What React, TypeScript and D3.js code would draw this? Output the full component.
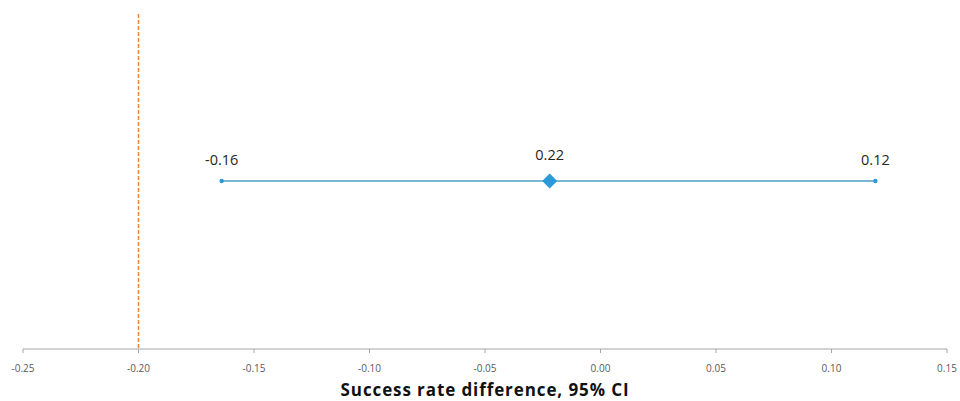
import React from "react";
import * as d3 from "d3";

const xTicks = [-0.25, -0.2, -0.15, -0.1, -0.05, 0.0, 0.05, 0.1, 0.15];
const ciLower = -0.164;
const ciUpper = 0.119;
const pointEstimate = -0.022;
const lowerLabel = "-0.16";
const upperLabel = "0.12";
const pointLabel = "0.22";
const refLine = -0.2;
const xTitle = "Success rate difference, 95% CI";

const W = 960;
const H = 401;

export default function App() {
  const x = d3.scaleLinear().domain([-0.25, 0.15]).range([23, 947]);
  const axisY = 349;
  const rowY = 181;
  const font = "'Open Sans', 'Noto Sans', sans-serif";
  const lineColor = "#4f9fc0";
  const markerColor = "#2b9ad8";
  const ds = 7.5;
  const fmt = (v: number) => d3.format(".2f")(v).replace("\u2212", "-");
  return (
    <svg width={W} height={H} style={{ position: "absolute", left: 0, top: 0 }}>
      <rect width={W} height={H} fill="#fff" />
      <line x1={x(refLine)} x2={x(refLine)} y1={14} y2={axisY} stroke="#ed8a3e" strokeWidth={1.6} strokeDasharray="4,2" />
      <line x1={x.range()[0]} x2={x.range()[1]} y1={axisY} y2={axisY} stroke="#a6a6a6" strokeWidth={1} />
      {xTicks.map((t) => (
        <g key={t}>
          <line x1={x(t)} x2={x(t)} y1={axisY} y2={axisY + 4} stroke="#a6a6a6" />
          <text x={x(t)} y={372} textAnchor="middle" fontSize={10} fill="#595959" fontFamily={font}>
            {fmt(t)}
          </text>
        </g>
      ))}
      <line x1={x(ciLower)} x2={x(ciUpper)} y1={rowY} y2={rowY} stroke={lineColor} strokeWidth={1.5} />
      <circle cx={x(ciLower)} cy={rowY} r={2.2} fill={markerColor} />
      <circle cx={x(ciUpper)} cy={rowY} r={2.2} fill={markerColor} />
      <path
        d={`M${x(pointEstimate)},${rowY - ds} L${x(pointEstimate) + ds},${rowY} L${x(pointEstimate)},${rowY + ds} L${x(pointEstimate) - ds},${rowY} Z`}
        fill={markerColor}
      />
      <text x={x(ciLower)} y={165} textAnchor="middle" fontSize={14.5} fill="#262626" fontFamily={font}>{lowerLabel}</text>
      <text x={x(ciUpper)} y={165} textAnchor="middle" fontSize={14.5} fill="#262626" fontFamily={font}>{upperLabel}</text>
      <text x={x(pointEstimate)} y={160} textAnchor="middle" fontSize={14.5} fill="#262626" fontFamily={font}>{pointLabel}</text>
      <text x={485} y={396} textAnchor="middle" fontSize={17} letterSpacing={0.9} fontWeight="bold" fill="#111" fontFamily={font}>{xTitle}</text>
    </svg>
  );
}
